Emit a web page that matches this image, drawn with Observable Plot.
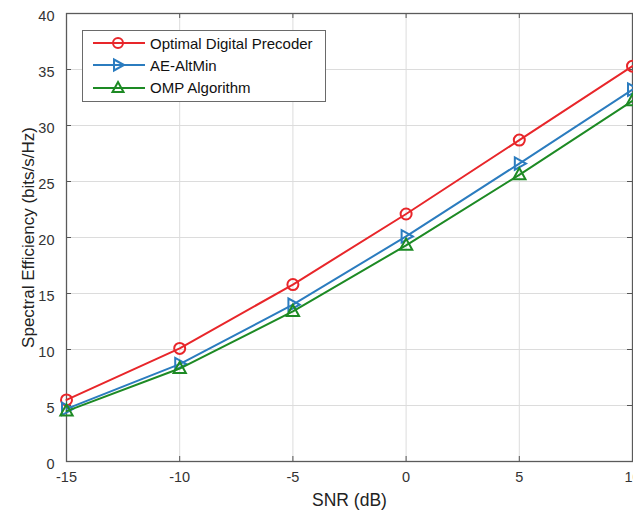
<!DOCTYPE html>
<html>
<head>
<meta charset="utf-8">
<script src="https://cdn.jsdelivr.net/npm/d3@7"></script>
<script src="https://cdn.jsdelivr.net/npm/@observablehq/plot@0.6"></script>
<style>
  html, body { margin: 0; padding: 0; background: #fff; overflow: hidden; }
  #wrap { position: relative; width: 633px; height: 517px; font-family: "Liberation Sans", Arial, sans-serif; }
  #legend { position: absolute; left: 82px; top: 30px; width: 242px; height: 70px; border: 1px solid #6a6a6a; background: #fff; font-size: 15px; color: #111; }
  .item { position: absolute; left: 8px; height: 20px; display: flex; align-items: center; white-space: nowrap; }
  .item svg { margin-right: 3px; }
</style>
</head>
<body>
<div id="wrap"><div id="chart"></div><div id="legend"></div></div>
<script>
const snr = [-15, -10, -5, 0, 5, 10];
const optimal = [5.5, 10.1, 15.8, 22.1, 28.7, 35.3];
const aeAltMin = [4.7, 8.7, 14.0, 20.1, 26.6, 33.2];
const omp = [4.5, 8.3, 13.4, 19.3, 25.6, 32.2];
const seriesNames = ["Optimal Digital Precoder", "AE-AltMin", "OMP Algorithm"];
const seriesColors = ["#e8262a", "#2b7cbf", "#1d8a24"];
const xTicks = [-15, -10, -5, 0, 5, 10];
const yTicks = [0, 5, 10, 15, 20, 25, 30, 35, 40];

const W = 633, H = 517;
const margin = {top: 13, right: 1, bottom: 56, left: 66};
const innerH = H - margin.top - margin.bottom;
const innerW = W - margin.left - margin.right;

const triRight = {
  draw(ctx, size) {
    const s = Math.sqrt(size) * 1.15;
    ctx.moveTo(s * 0.6, 0);
    ctx.lineTo(-s * 0.4, -s * 0.55);
    ctx.lineTo(-s * 0.4, s * 0.55);
    ctx.closePath();
  }
};
const triUp = {
  draw(ctx, size) {
    const s = Math.sqrt(size) * 1.15;
    ctx.moveTo(0, -s * 0.6);
    ctx.lineTo(s * 0.55, s * 0.4);
    ctx.lineTo(-s * 0.55, s * 0.4);
    ctx.closePath();
  }
};
const symbols = ["circle", triRight, triUp];
const values = [optimal, aeAltMin, omp];

const data = [];
values.forEach((arr, i) => arr.forEach((v, j) => data.push({series: seriesNames[i], x: snr[j], y: v, k: i})));

const marks = [
  Plot.gridX(xTicks, {stroke: "#dcdcdc", strokeOpacity: 1}),
  Plot.gridY(yTicks, {stroke: "#dcdcdc", strokeOpacity: 1}),
  Plot.tickX(xTicks, {x: d => d, insetTop: innerH - 5, stroke: "#555"}),
  Plot.tickX(xTicks, {x: d => d, insetBottom: innerH - 5, stroke: "#555"}),
  Plot.tickY(yTicks, {y: d => d, insetRight: innerW - 5, stroke: "#555"}),
  Plot.tickY(yTicks, {y: d => d, insetLeft: innerW - 5, stroke: "#555"}),
  Plot.frame({stroke: "#5a5a5a", strokeWidth: 1.3}),
  Plot.axisX(xTicks, {tickSize: 0, tickPadding: 10, fontSize: 14.5, fill: "#333", label: null, tickFormat: d => String(d)}),
  Plot.axisY(yTicks, {tickSize: 0, tickPadding: 12, dy: 3, fontSize: 14.5, fill: "#333", label: null, tickFormat: d => String(d)})
];
values.forEach((arr, i) => {
  const d = data.filter(r => r.k === i);
  marks.push(Plot.line(d, {x: "x", y: "y", stroke: seriesColors[i], strokeWidth: 2}));
  marks.push(Plot.dot(d, {x: "x", y: "y", stroke: seriesColors[i], strokeWidth: 2, fill: "none", r: 5.5, symbol: () => symbols[i]}));
});
marks.push(Plot.text(["SNR (dB)"], {frameAnchor: "bottom", textAnchor: "middle", dy: 44, text: d => d, fontSize: 17.5, fill: "#222"}));
marks.push(Plot.text(["Spectral Efficiency (bits/s/Hz)"], {frameAnchor: "left", textAnchor: "middle", dx: -38, rotate: -90, text: d => d, fontSize: 17, fill: "#222"}));

const chart = Plot.plot({
  width: W, height: H,
  marginTop: margin.top, marginRight: margin.right, marginBottom: margin.bottom, marginLeft: margin.left,
  style: {fontFamily: "Liberation Sans, Arial, sans-serif", background: "#fff"},
  x: {domain: [-15, 10]},
  y: {domain: [0, 40]},
  symbol: {type: "identity"},
  marks
});
document.getElementById("chart").appendChild(chart);

const legend = document.getElementById("legend");
seriesNames.forEach((name, i) => {
  const div = document.createElement("div");
  div.className = "item";
  div.style.top = (2 + i * 22.3) + "px";
  const c = seriesColors[i];
  const sym = i === 0 ? '<circle cx="27" cy="10" r="5" fill="none" stroke="' + c + '" stroke-width="2"/>'
    : i === 1 ? '<path d="M33,10 L23,4.5 L23,15.5 Z" fill="none" stroke="' + c + '" stroke-width="2"/>'
    : '<path d="M27,4 L32.5,14 L21.5,14 Z" fill="none" stroke="' + c + '" stroke-width="2"/>';
  div.innerHTML = '<svg width="56" height="20"><line x1="2" y1="10" x2="54" y2="10" stroke="' + c + '" stroke-width="2"/>' + sym + '</svg><span>' + name + '</span>';
  legend.appendChild(div);
});
</script>
</body>
</html>
